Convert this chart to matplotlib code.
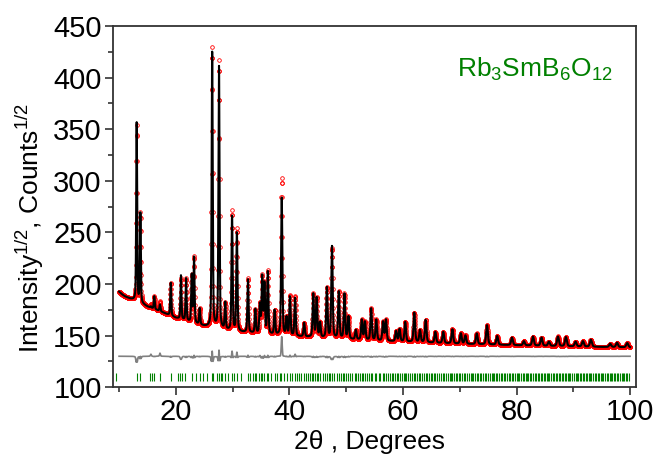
import numpy as np
import matplotlib.pyplot as plt

plt.rcParams['font.family'] = ['Liberation Sans', 'DejaVu Sans']
plt.rcParams['mathtext.fontset'] = 'custom'
plt.rcParams['mathtext.rm'] = 'Liberation Sans'
plt.rcParams['mathtext.it'] = 'Liberation Sans'

# background knots (2theta, sqrt counts)
bg_pos = [9, 10, 10.5, 11, 12, 13, 15, 17, 20, 23, 25, 28, 30, 35, 40, 45, 50,
          55, 60, 65, 70, 75, 80, 85, 90, 95, 101]
bg_val = [195, 192.5, 190, 188, 185.5, 183.5, 178, 174, 167, 162, 159, 156, 154,
          151.5, 149.5, 148, 146.5, 145, 144, 143, 142, 141.3, 140.6, 140, 139.5,
          139, 138.5]

# peak positions and peak top values (observed / calculated)
peak_pos = [13.1, 13.75, 15.6, 16.2, 17.2, 19.1, 20.9, 21.8, 22.8, 23.2, 24.2,
            26.4, 27.6, 28.7, 29.9, 30.75, 32.7, 34.0, 34.8, 35.2, 35.6, 36.2,
            37.4, 38.65, 39.5, 40.1, 41.0, 42.6, 44.2, 44.8, 45.4, 46.6, 47.5,
            48.7, 49.7, 50.4, 51.7, 52.75, 53.3, 54.4, 55.3, 56.5, 57.0, 58.8,
            59.4, 60.4, 62.0, 63.0, 64.0, 65.7, 67.1, 68.7, 70.2, 71.0, 73.0,
            74.8, 76.6, 79.2, 81.3, 82.9, 84.4, 85.7, 87.3, 88.7, 90.4, 91.7,
            93.1, 96.5, 97.7, 99.5]
peak_obs = [353, 268, 180, 188, 183, 201, 205, 205, 208, 226, 176,
            429, 416, 181, 270, 253, 205, 175, 180, 206, 200, 212,
            174, 302, 167, 188, 188, 162, 190, 186, 162, 196, 234,
            192, 190, 168, 155, 165, 163, 176, 165, 163, 165, 154,
            156, 163, 172, 155, 165, 153.5, 153.5, 156, 152, 150, 152,
            160, 149.5, 148, 144.5, 149, 148, 144, 149, 148.5, 144, 144.5,
            146, 142, 143, 142.7]
peak_calc = [356, 268, 178, 188, 180, 201, 208, 205, 208, 225, 176,
             424, 410, 181, 265, 249, 204, 175, 179, 206, 199, 211,
             174, 283, 167, 187, 186, 162, 190, 186, 162, 196, 236,
             192, 190, 168, 155, 165, 163, 176, 165, 163, 165, 154,
             156, 163, 172, 155, 165, 153.5, 153.5, 156, 152, 150, 152,
             160, 149.5, 148, 144.5, 149, 148, 144, 149, 148.5, 144, 144.5,
             146, 142, 143, 142.7]

# Bragg reflection positions
tick_pos = [9.54, 13.24, 13.65, 15.41, 15.83, 16.17, 17.18, 19.06, 20.3, 20.7,
            21.0, 21.6, 22.9, 23.5, 24.2, 24.8, 25.5, 26.4, 26.6, 27.3, 27.6,
            27.9, 28.2, 28.7, 29.1, 29.9, 30.2, 30.8, 31.4, 32.7, 33.1, 33.5,
            33.9, 34.2, 34.6, 35.0, 35.2, 35.6, 36.0, 36.3, 36.8, 37.4, 37.9,
            38.3, 38.6, 39.0, 39.5, 40.1, 40.4, 40.9, 41.3, 41.7, 42.0, 42.6,
            42.9, 43.3, 43.7, 44.0, 44.2, 44.5, 44.8, 45.1, 45.4, 45.9, 46.2,
            46.6, 46.9, 47.2, 47.5, 47.9, 48.3, 48.7, 49.0, 49.4, 49.7, 50.0,
            50.4, 50.7, 51.1, 51.5, 51.7, 52.0, 52.4, 52.7, 53.0, 53.3, 53.6,
            54.0, 54.4, 54.6, 55.0, 55.3, 55.7, 56.0, 56.4, 56.7, 57.0, 57.3,
            57.7, 58.0, 58.3, 58.6, 58.9, 59.2, 59.5, 59.8, 60.1, 60.4, 60.6,
            60.9, 61.3, 61.6, 61.9, 62.2, 62.5, 62.8, 63.0, 63.3, 63.7, 64.0,
            64.3, 64.6, 64.9, 65.2, 65.5, 65.7, 66.0, 66.3, 66.7, 67.0, 67.3,
            67.6, 67.9, 68.2, 68.5, 68.7, 69.0, 69.3, 69.6, 69.9, 70.1, 70.4,
            70.7, 71.0, 71.3, 71.6, 71.9, 72.1, 72.4, 72.7, 73.0, 73.3, 73.6,
            73.8, 74.1, 74.4, 74.7, 75.0, 75.3, 75.6, 75.8, 76.1, 76.4, 76.6,
            76.9, 77.2, 77.5, 77.8, 78.0, 78.3, 78.6, 78.9, 79.2, 79.4, 79.7,
            80.0, 80.3, 80.5, 80.8, 81.1, 81.3, 81.6, 81.9, 82.1, 82.4, 82.6,
            82.9, 83.2, 83.5, 83.7, 84.0, 84.3, 84.5, 84.8, 85.1, 85.3, 85.6,
            85.8, 86.1, 86.4, 86.6, 86.9, 87.2, 87.4, 87.7, 88.0, 88.2, 88.5,
            88.7, 89.0, 89.3, 89.5, 89.8, 90.1, 90.4, 90.6, 90.9, 91.2, 91.4,
            91.7, 91.9, 92.2, 92.5, 92.7, 93.0, 93.2, 93.5, 93.8, 94.0, 94.3,
            94.6, 94.8, 95.1, 95.3, 95.6, 95.9, 96.1, 96.4, 96.6, 96.9, 97.2,
            97.4, 97.7, 97.9, 98.2, 98.5, 98.7, 99.0, 99.2, 99.5, 99.8]

diff_offset = 130

two_theta = np.arange(10, 100.001, 0.025)


def profile(tops, widen):
    y = np.interp(two_theta, bg_pos, bg_val)
    for p, top in zip(peak_pos, tops):
        h = top - np.interp(p, bg_pos, bg_val)
        w = (0.15 + 0.0025 * p) * widen
        d = (two_theta - p) / (w / 2)
        y = y + h * (0.6 * np.exp(-np.log(2) * d ** 2) + 0.4 / (1 + d ** 2))
    return y


obs = profile(peak_obs, 1.0)
calc = profile(peak_calc, 1.04)
diff = obs - calc + diff_offset

fig = plt.figure(figsize=(6.56, 4.55), dpi=100)
ax = fig.add_axes([0.172, 0.149, 0.798, 0.794])

ax.plot(two_theta, obs, 'o', ms=2.6, mfc='none', mec='red', mew=0.6)
ax.plot(two_theta, calc, '-', color='black', lw=1.5)
ax.plot(two_theta, diff, '-', color='gray', lw=1.2)
ax.vlines(tick_pos, 106, 113.5, color='green', lw=0.8)

ax.set_xlim(8.9, 101.1)
ax.set_ylim(100, 450)
ax.set_xticks([20, 40, 60, 80, 100])
ax.set_xticks([10, 30, 50, 70, 90], minor=True)
ax.set_yticks(range(100, 451, 50))
ax.set_yticks(range(125, 450, 50), minor=True)
ax.tick_params(which='major', direction='out', length=6, width=1.2,
               labelsize=21, color='#333333', pad=2)
ax.tick_params(which='minor', direction='out', length=3.5, width=1.2,
               color='#333333')
for s in ax.spines.values():
    s.set_linewidth(1.3)
    s.set_color('#333333')

ax.set_xlabel('2θ , Degrees', fontsize=19)
ax.xaxis.set_label_coords(0.49, -0.118)
ax.set_ylabel('Intensity$^{1/2}$, Counts$^{1/2}$', fontsize=19)
ax.yaxis.set_label_coords(-0.128, 0.44)
ax.text(0.807, 0.88, 'Rb$_3$SmB$_6$O$_{12}$', transform=ax.transAxes,
        color='green', fontsize=19, ha='center', va='center')

fig.savefig('out.png', dpi=100)
